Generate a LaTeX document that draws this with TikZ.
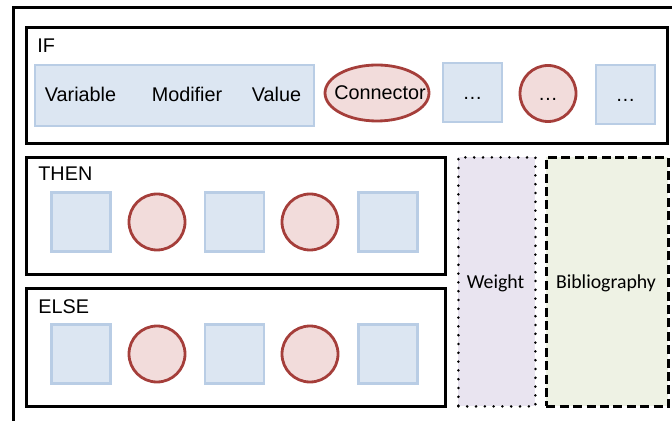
\documentclass[tikz,border=0pt]{standalone}
\usepackage{fontspec}
\setmainfont{Liberation Sans}
\newfontfamily\calibri{Carlito}
\usetikzlibrary{shapes,positioning,shadows}
\definecolor{slotblue}{RGB}{220,230,242}
\definecolor{slotedge}{RGB}{185,205,229}
\definecolor{connpink}{RGB}{242,220,219}
\definecolor{connred}{RGB}{165,62,58}
\definecolor{weightpurple}{RGB}{233,228,240}
\definecolor{biblgreen}{RGB}{238,242,228}

\begin{document}
\begin{tikzpicture}[x=0.5pt, y=-0.5pt, font=\fontsize{9.9}{11}\selectfont,
  block/.style={draw, line width=1.5pt, anchor=north west, inner sep=0pt},
  slot/.style={draw=slotedge, line width=1.2pt, fill=slotblue, minimum size=29.5pt, inner sep=0pt,
    text height=7pt, text depth=0pt,
    drop shadow={shadow xshift=0.6pt, shadow yshift=-0.6pt, opacity=0.25, fill=gray}},
  conn/.style={circle, draw=connred, line width=1.4pt, fill=connpink, minimum size=28pt, inner sep=0pt,
    text height=7pt, text depth=0pt},
  tag/.style={anchor=base west, inner sep=0pt}]
  \useasboundingbox (0,0) rectangle (672,421);
  \clip (0,0) rectangle (672,421);
  % outer frame, runs off the page
  \node[block, minimum width=400pt, minimum height=250pt] (frame) at (12,6) {};

  % IF row
  \node[block, minimum width=320.5pt, minimum height=58pt] (ifbox) at (25,26) {};
  \node[tag] (iflabel) at (37,53) {IF};
  \node[slot, minimum width=139.5pt, minimum height=30.5pt] (cond) at (174.5,95.5) {};
  \node[anchor=base, inner sep=0pt] (variable) at (80.5,102) {Variable};
  \node[anchor=base, inner sep=0pt] (modifier) at (187,102) {Modifier};
  \node[anchor=base, inner sep=0pt] (value) at (276.5,102) {Value};
  \node[ellipse, draw=connred, line width=1.4pt, fill=connpink, minimum width=52pt, minimum height=28pt] (connector) at (377,93) {};
  \node[anchor=base, inner sep=0pt] at ([xshift=1.5pt, yshift=-3.5pt]connector.center) {Connector};
  \node[slot] (ifmore1) at (472.5,92.5) {…};
  \node[conn] (ifmore2) at (548,93.5) {…};
  \node[slot] (ifmore3) at (625.5,94.5) {…};

  % THEN row
  \node[block, minimum width=209.5pt, minimum height=58.5pt] (thenbox) at (25,156) {};
  \node[tag] (thenlabel) at (38,181) {THEN};
  \foreach \x/\kind [count=\i] in {81/slot,157/conn,234.5/slot,310/conn,388/slot}
    \node[\kind] (then\i) at (\x,222) {};

  % ELSE row
  \node[block, minimum width=209.5pt, minimum height=59pt] (elsebox) at (25,287) {};
  \node[tag] (elselabel) at (38,314) {ELSE};
  \foreach \x/\kind [count=\i] in {81/slot,157/conn,234.5/slot,310/conn,388/slot}
    \node[\kind] (else\i) at (\x,354) {};

  % side columns
  \node[block, fill=weightpurple, line width=1.4pt, line cap=round, dash pattern=on 0pt off 4.4pt,
    minimum width=38.5pt, minimum height=124.5pt] (weight) at (457,156) {};
  \node[anchor=base, inner sep=0pt, font=\calibri\fontsize{9.9}{11}\selectfont] (weightlabel) at (495.5,288) {Weight};
  \node[block, fill=biblgreen, line width=1.4pt, dash pattern=on 4.5pt off 2.2pt,
    minimum width=61pt, minimum height=124.5pt] (biblio) at (545,156) {};
  \node[anchor=base, inner sep=0pt, font=\calibri\fontsize{9.9}{11}\selectfont] (bibliolabel) at (606,288) {Bibliography};
\end{tikzpicture}
\end{document}
